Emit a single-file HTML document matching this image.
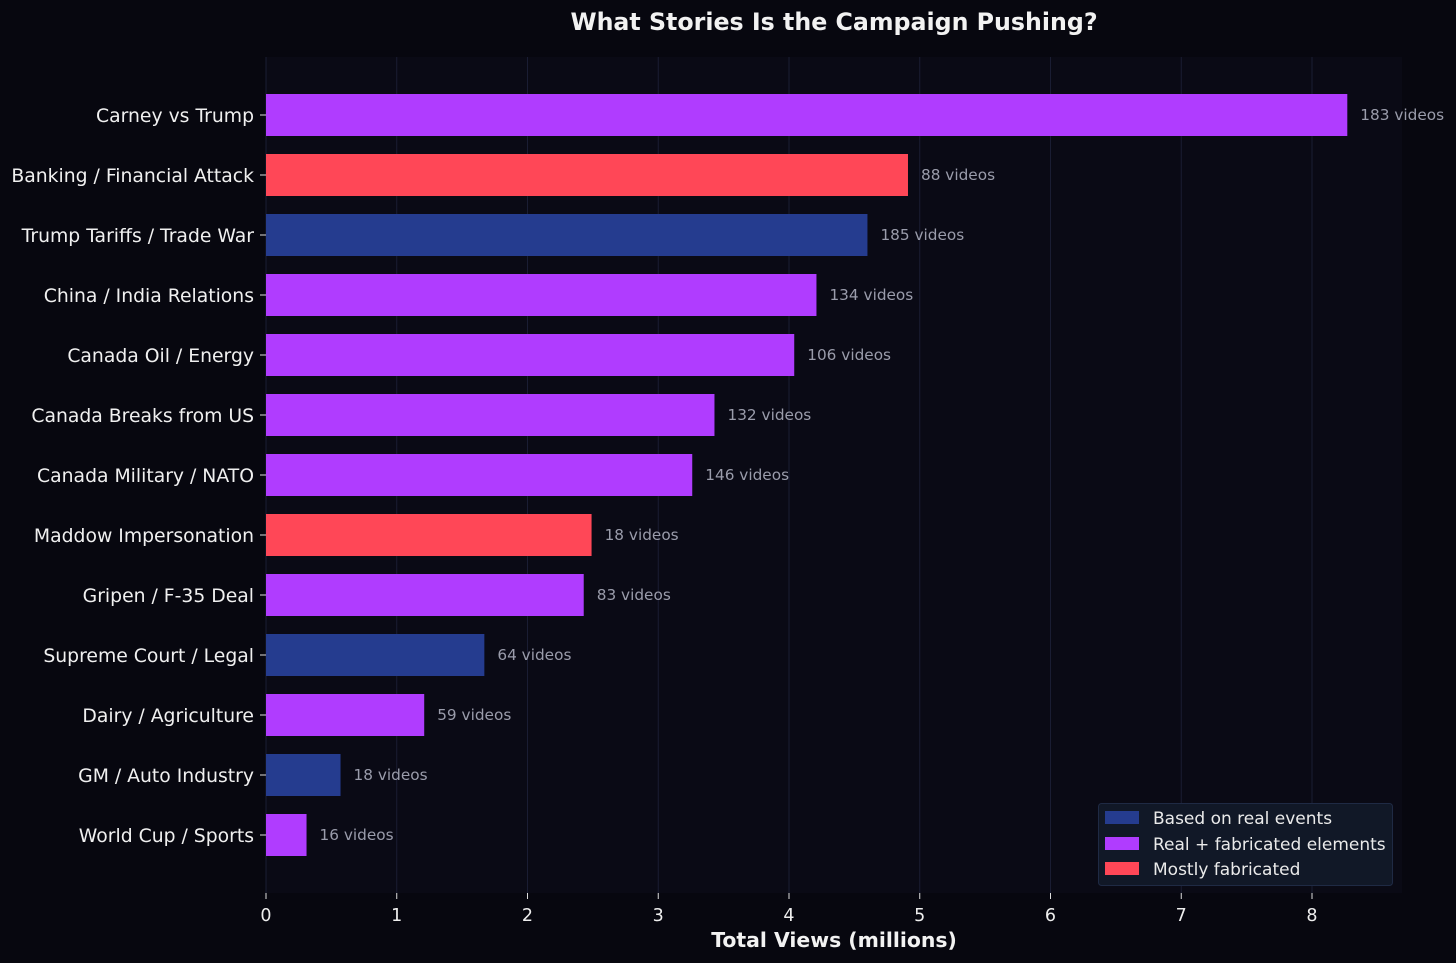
<!DOCTYPE html>
<html><head><meta charset="utf-8"><style>
body{margin:0;background:#07070f;}
svg{display:block;font-family:"DejaVu Sans","Liberation Sans",sans-serif;}
</style></head><body>
<svg id="c" width="1456" height="963" xmlns="http://www.w3.org/2000/svg">
<rect width="1456" height="963" fill="#07070f"/>
<rect x="266" y="57" width="1136" height="836" fill="#0a0a15"/>
<g id="grid"></g><g id="bars"></g><g id="ylab"></g><g id="xt"></g>
<text x="834" y="30" fill="#f2f2f2" font-size="23.7" font-weight="bold" text-anchor="middle">What Stories Is the Campaign Pushing?</text>
<text x="834" y="947" fill="#f2f2f2" font-size="20.4" font-weight="bold" text-anchor="middle">Total Views (millions)</text>
<g>
<rect x="1098.5" y="803.5" width="294" height="82" rx="3" fill="#111827" stroke="#1f2a44"/>
<g><rect x="1105" y="811" width="34" height="13" fill="#253c8f"/><text x="1153" y="824" fill="#eaeaea" font-size="17">Based on real events</text></g>
<g><rect x="1105" y="837" width="34" height="13" fill="#b03cff"/><text x="1153" y="850" fill="#eaeaea" font-size="17">Real + fabricated elements</text></g>
<g><rect x="1105" y="862" width="34" height="13" fill="#ff4757"/><text x="1153" y="875" fill="#eaeaea" font-size="17">Mostly fabricated</text></g>
</g>
</svg>
<script>
const categories=["Carney vs Trump","Banking / Financial Attack","Trump Tariffs / Trade War","China / India Relations","Canada Oil / Energy","Canada Breaks from US","Canada Military / NATO","Maddow Impersonation","Gripen / F-35 Deal","Supreme Court / Legal","Dairy / Agriculture","GM / Auto Industry","World Cup / Sports"];
const views=[8.27,4.91,4.60,4.21,4.04,3.43,3.26,2.49,2.43,1.67,1.21,0.57,0.31];
const videoCounts=[183,88,185,134,106,132,146,18,83,64,59,18,16];
const types=["mixed","fabricated","real","mixed","mixed","mixed","mixed","fabricated","mixed","real","mixed","real","mixed"];
const xTicks=[0,1,2,3,4,5,6,7,8];
const NS="http://www.w3.org/2000/svg";
const colors={real:"#253c8f",mixed:"#b03cff",fabricated:"#ff4757"};
const x=v=>266+v*130.75;
const y=i=>115+i*60;
function mk(tag,attrs,parent,txt){const e=document.createElementNS(NS,tag);for(const k in attrs)e.setAttribute(k,attrs[k]);if(txt!==undefined)e.textContent=txt;document.getElementById(parent).appendChild(e);return e;}
xTicks.forEach(t=>{
 const g=mk("line",{x1:x(t),x2:x(t),y1:57,y2:893,stroke:"#1a1d33","stroke-width":1},"grid");
 
 
 const tk=mk("line",{x1:x(t),x2:x(t),y1:893,y2:899,stroke:"#ddd","stroke-width":1},"xt");
 
 
 const tl=mk("text",{x:x(t),y:921,fill:"#eee","font-size":17.5,"text-anchor":"middle"},"xt",String(t));
 
 
});
categories.forEach((c,i)=>{
 const r=mk("rect",{x:x(0),y:y(i)-21,width:x(views[i])-x(0),height:42,fill:colors[types[i]]},"bars");
 
 
 const v=mk("text",{x:x(views[i])+13,y:y(i)+5,fill:"#9a9cab","font-size":15.3},"bars",videoCounts[i]+" videos");
 
 
 const l=mk("text",{x:254,y:y(i)+7,fill:"#f0f0f0","font-size":18.8,"text-anchor":"end"},"ylab",c);
 
 
 const tk=mk("line",{x1:260,x2:266,y1:y(i),y2:y(i),stroke:"#ddd"},"ylab");
 
 
});
</script>
</body></html>
